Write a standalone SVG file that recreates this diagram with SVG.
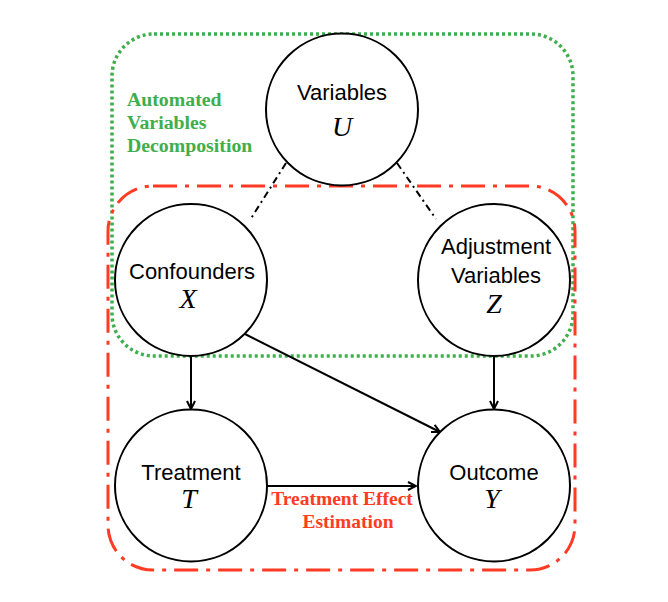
<svg xmlns="http://www.w3.org/2000/svg" width="668" height="602" viewBox="0 0 668 602">
<style>
.node circle{fill:#fff;stroke:#000;stroke-width:2}
.lbl{font-family:"Liberation Sans","DejaVu Sans",sans-serif;font-size:22px;fill:#000;text-anchor:middle}
.var{font-family:"Liberation Serif","DejaVu Serif",serif;font-style:italic;font-size:28px;fill:#000;text-anchor:middle}
.edge{stroke:#000;stroke-width:2;fill:none}
.dd{stroke:#000;stroke-width:2;fill:none;stroke-dasharray:7 4 2 4}
.gtxt{font-family:"Liberation Serif","DejaVu Serif",serif;font-weight:bold;font-size:19.8px;fill:#3fae4c}
.rtxt{font-family:"Liberation Serif","DejaVu Serif",serif;font-weight:bold;font-size:19.5px;fill:#ff3b24}
</style>
<defs>
<marker id="arr" viewBox="0 0 10 10" refX="9" refY="5" markerWidth="10" markerHeight="10" markerUnits="userSpaceOnUse" orient="auto">
<path d="M1,1 L9,5 L1,9" fill="none" stroke="#000" stroke-width="2"/>
</marker>
</defs>
<rect width="668" height="602" fill="#fff"/>
<g id="groups">
<rect x="112" y="34" width="461" height="322" rx="42" ry="42" fill="none" stroke="#3fae4c" stroke-width="3.5" stroke-dasharray="3 3"/>
<rect x="108" y="186" width="467" height="384" rx="45" ry="45" fill="none" stroke="#ff3b24" stroke-width="3" stroke-dasharray="24 8 4 8"/>
</g>
<g id="connectors">
<line class="dd" x1="286" y1="163" x2="250" y2="220"/>
<line class="dd" x1="397" y1="163" x2="436" y2="219"/>
<line class="edge" x1="191" y1="356" x2="191" y2="409" marker-end="url(#arr)"/>
<line class="edge" x1="494" y1="356" x2="494" y2="409" marker-end="url(#arr)"/>
<line class="edge" x1="245" y1="334" x2="440" y2="432" marker-end="url(#arr)"/>
<line class="edge" x1="267" y1="486" x2="416" y2="486" marker-end="url(#arr)"/>
</g>
<g id="node-U" class="node">
<circle cx="342" cy="109.5" r="76"/>
<text class="lbl" x="342" y="100">Variables</text>
<text class="var" x="342" y="136">U</text>
</g>
<g id="node-X" class="node">
<circle cx="191" cy="280" r="76"/>
<text class="lbl" x="192" y="279">Confounders</text>
<text class="var" x="188" y="308">X</text>
</g>
<g id="node-Z" class="node">
<circle cx="494" cy="280" r="76"/>
<text class="lbl" x="496" y="254">Adjustment</text>
<text class="lbl" x="496" y="283">Variables</text>
<text class="var" x="494" y="313">Z</text>
</g>
<g id="node-T" class="node">
<circle cx="191" cy="485.5" r="76"/>
<text class="lbl" x="191" y="480">Treatment</text>
<text class="var" x="189" y="508">T</text>
</g>
<g id="node-Y" class="node">
<circle cx="494" cy="485.5" r="76"/>
<text class="lbl" x="494" y="480">Outcome</text>
<text class="var" x="492" y="508">Y</text>
</g>
<g id="label-green">
<text class="gtxt" x="127" y="106">Automated</text>
<text class="gtxt" x="127" y="129">Variables</text>
<text class="gtxt" x="127" y="152">Decomposition</text>
</g>
<g id="label-red">
<text class="rtxt" x="342" y="505" text-anchor="middle">Treatment Effect</text>
<text class="rtxt" x="348" y="528" text-anchor="middle">Estimation</text>
</g>
</svg>
